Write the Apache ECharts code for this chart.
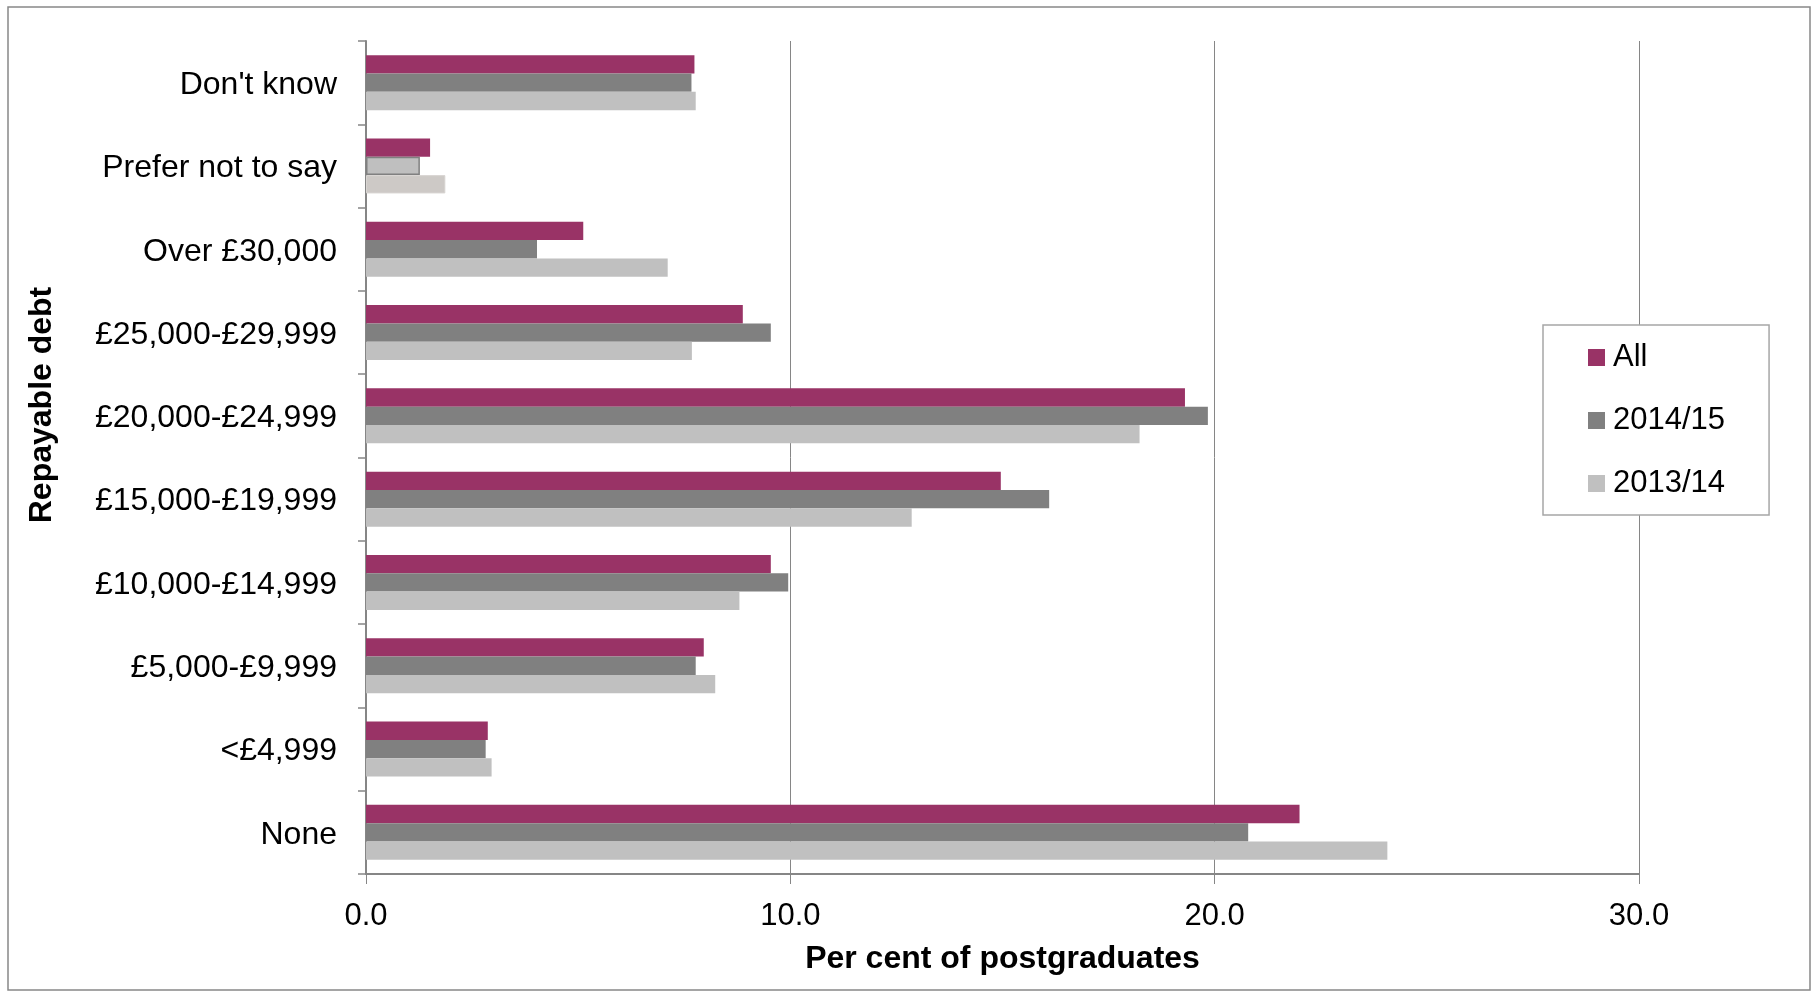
<!DOCTYPE html>
<html>
<head>
<meta charset="utf-8">
<script src="https://cdn.jsdelivr.net/npm/echarts@6/dist/echarts.min.js"></script>
<style>html,body{margin:0;padding:0;background:#fff}#c{width:1812px;height:993px}</style>
</head>
<body>
<div id="c"></div>
<script>
const categories = ['None', '<£4,999', '£5,000-£9,999', '£10,000-£14,999', '£15,000-£19,999', '£20,000-£24,999', '£25,000-£29,999', 'Over £30,000', 'Prefer not to say', "Don't know"];
const seriesNames = ['All', '2014/15', '2013/14'];
const valuesAll = [22.0, 2.87, 7.96, 9.54, 14.96, 19.30, 8.88, 5.12, 1.51, 7.74];
const values1415 = [20.79, 2.82, 7.77, 9.95, 16.10, 19.84, 9.54, 4.03, 1.27, 7.67];
const values1314 = [24.07, 2.96, 8.23, 8.80, 12.86, 18.23, 7.68, 7.11, 1.87, 7.77];
const xTicks = [0, 10, 20, 30];

const FONT = '"Liberation Sans", Arial, sans-serif';
const colors = {'All': '#993366', '2014/15': '#808080', '2013/14': '#c0c0c0'};
// special styling seen on the "Prefer not to say" bars
const specialIdx = categories.indexOf('Prefer not to say');
const specialStyle = {
  '2014/15': {color: '#bfbfbf', borderColor: '#808080', borderWidth: 1.5},
  '2013/14': {color: '#cdc9c6', borderColor: '#d8d5d2', borderWidth: 1}
};
function mk(name, vals) {
  return {
    name: name,
    type: 'bar',
    barGap: '0%',
    barCategoryGap: '34%',
    itemStyle: {color: colors[name]},
    data: vals.map((v, i) => (i === specialIdx && specialStyle[name]) ? {value: v, itemStyle: specialStyle[name]} : v)
  };
}
const chart = echarts.init(document.getElementById('c'), null, {renderer: 'canvas'});
chart.setOption({
  backgroundColor: '#fff',
  animation: false,
  textStyle: {fontFamily: FONT},
  grid: {left: 366, right: 173, top: 41, bottom: 119, containLabel: false},
  legend: {
    orient: 'vertical',
    left: 1543, top: 325,
    data: seriesNames,
    icon: 'rect',
    itemWidth: 17, itemHeight: 17,
    itemGap: 32,
    padding: [17, 44, 16, 45],
    backgroundColor: '#fff',
    borderColor: '#a6a6a6', borderWidth: 1.5,
    textStyle: {fontFamily: FONT, fontSize: 31, color: '#000', padding: [0, 0, 0, 3]}
  },
  xAxis: {
    type: 'value', min: xTicks[0], max: xTicks[xTicks.length - 1], interval: 10,
    name: 'Per cent of postgraduates', nameLocation: 'middle', nameGap: 69,
    nameTextStyle: {fontFamily: FONT, fontSize: 32, fontWeight: 'bold', color: '#000'},
    axisLine: {show: true, lineStyle: {color: '#868686', width: 2}},
    axisTick: {show: true, length: 10, lineStyle: {color: '#868686', width: 1}},
    axisLabel: {margin: 27, fontSize: 31, color: '#000', fontFamily: FONT, formatter: v => v.toFixed(1)},
    splitLine: {show: true, lineStyle: {color: '#868686', width: 1}}
  },
  yAxis: {
    type: 'category', data: categories,
    axisLine: {show: true, lineStyle: {color: '#868686', width: 2}},
    axisTick: {show: true, length: 8, lineStyle: {color: '#868686', width: 1.5}},
    axisLabel: {
      margin: 29, fontSize: 32, color: '#000', fontFamily: FONT,
      formatter: v => '{a|' + v + '}',
      rich: {a: {fontSize: 32, color: '#000', fontFamily: FONT, padding: [5, 0, 0, 0]}}
    },
    splitLine: {show: false}
  },
  graphic: [
    {type: 'rect', shape: {x: 8, y: 7, width: 1802, height: 983}, style: {fill: 'none', stroke: '#888', lineWidth: 1.5}, z: -1},
    {type: 'text', x: 42, y: 405, rotation: Math.PI / 2,
      style: {text: 'Repayable debt', font: 'bold 32px ' + FONT, fill: '#000', align: 'center', verticalAlign: 'middle'}}
  ],
  series: [mk('All', valuesAll), mk('2014/15', values1415), mk('2013/14', values1314)]
});
</script>
</body>
</html>
